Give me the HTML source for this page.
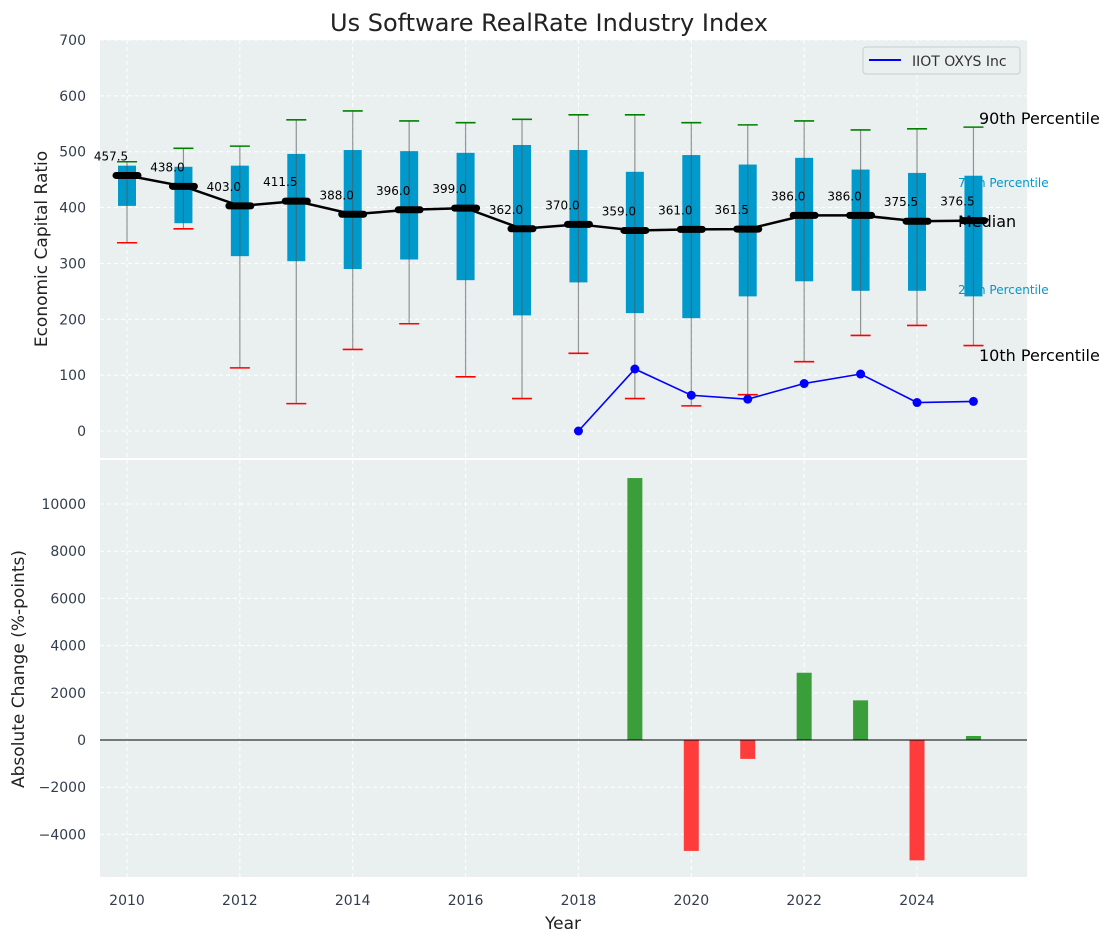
<!DOCTYPE html>
<html><head><meta charset="utf-8">
<style>
body{margin:0;background:#fff;font-family:"Liberation Sans","DejaVu Sans",sans-serif;}
svg text{font-family:"DejaVu Sans","Liberation Sans",sans-serif;}
</style></head>
<body>
<svg id="chart" width="1114" height="942" xmlns="http://www.w3.org/2000/svg"></svg>
<script>
const years=[2010,2011,2012,2013,2014,2015,2016,2017,2018,2019,2020,2021,2022,2023,2024,2025];
const p10=[337,362,113,49,146,192,97,58,139,58,45,65,124,171,189,153];
const p25=[403,372,313,304,290,307,270,207,266,211,202,241,268,251,251,241];
const medians=[457.5,438,403,411.5,388,396,399,362,370,359,361,361.5,386,386,375.5,376.5];
const p75=[475,473,475,496,503,501,498,512,503,464,494,477,489,468,462,457];
const p90=[482,506,510,557,573,555,552,558,566,566,552,548,555,539,541,544];
const companyYears=[2018,2019,2020,2021,2022,2023,2024,2025];
const companyValues=[0,111,64,57,85,102,51,53];
const changeYears=[2019,2020,2021,2022,2023,2024,2025];
const changeValues=[11100,-4700,-800,2850,1680,-5100,170];
const topTicks=[0,100,200,300,400,500,600,700];
const botTicks=[-4000,-2000,0,2000,4000,6000,8000,10000];
const xTicks=[2010,2012,2014,2016,2018,2020,2022,2024];

const svg=document.getElementById('chart');
const NS='http://www.w3.org/2000/svg';
function el(tag,attrs,parent){const e=document.createElementNS(NS,tag);for(const k in attrs)e.setAttribute(k,attrs[k]);(parent||svg).appendChild(e);return e;}
const L=100,R=1027,T1=40,B1=458,T2=460,B2=877;
const x=v=>127+(v-2010)*56.43;
const y1=v=>431-v*0.5586;
const y2=v=>740-v*0.0236;
const fmt=v=>v<0?'\u2212'+(-v):String(v);

let p=el('rect',{x:L,y:T1,width:R-L,height:B1-T1,fill:'#eaeff0'});

p=el('rect',{x:L,y:T2,width:R-L,height:B2-T2,fill:'#eaeff0'});


xTicks.forEach(t=>{
  [[T1,B1],[T2,B2]].forEach(([a,b])=>{let g=el('line',{x1:x(t),x2:x(t),y1:a,y2:b,stroke:'#fff','stroke-dasharray':'4,3','stroke-width':1});});
  let tx=el('text',{x:x(t),y:905,'text-anchor':'middle','font-size':14,fill:'#333d4d'});tx.textContent=t;
  
});
topTicks.forEach(t=>{
  let g=el('line',{x1:L,x2:R,y1:y1(t),y2:y1(t),stroke:'#fff','stroke-dasharray':'4,3'});
  
  let tx=el('text',{x:86,y:y1(t)+5,'text-anchor':'end','font-size':14,fill:'#333d4d'});tx.textContent=fmt(t);
  
});
botTicks.forEach(t=>{
  let g=el('line',{x1:L,x2:R,y1:y2(t),y2:y2(t),stroke:'#fff','stroke-dasharray':'4,3'});
  
  let tx=el('text',{x:86,y:y2(t)+5,'text-anchor':'end','font-size':14,fill:'#333d4d'});tx.textContent=fmt(t);
  
});

function lab(txt,xx,yy,size,color,name){let t=el('text',{x:xx,y:yy,'font-size':size,fill:color});t.textContent=txt;}
lab('75th Percentile',958,187,12,'#0099cc','p75-label');
lab('25th Percentile',958,294,12,'#0099cc','p25-label');

years.forEach((yr,i)=>{
  const cx=x(yr);
  let b=el('rect',{x:cx-9,y:y1(p75[i]),width:18,height:y1(p25[i])-y1(p75[i]),fill:'#0099cc'});
  
  let w=el('line',{x1:cx,x2:cx,y1:y1(p90[i]),y2:y1(p10[i]),stroke:'#555','stroke-opacity':0.6,'stroke-width':1.2});
  
  let c1=el('line',{x1:cx-10,x2:cx+10,y1:y1(p90[i]),y2:y1(p90[i]),stroke:'green','stroke-width':1.6});
  
  let c2=el('line',{x1:cx-10,x2:cx+10,y1:y1(p10[i]),y2:y1(p10[i]),stroke:'red','stroke-width':1.6});
  
});
let ml=el('polyline',{points:years.map((yr,i)=>x(yr)+','+y1(medians[i])).join(' '),fill:'none',stroke:'#000','stroke-width':2.5});

years.forEach((yr,i)=>{
  const cx=x(yr),cy=y1(medians[i]);
  let m=el('line',{x1:cx-11,x2:cx+11,y1:cy,y2:cy,stroke:'#000','stroke-width':7,'stroke-linecap':'round'});
  
  let t=el('text',{x:cx-16,y:cy-15,'text-anchor':'middle','font-size':12,fill:'#000'});t.textContent=medians[i].toFixed(1);
  
});
lab('90th Percentile',979,124,16,'#000','p90-label');
lab('Median',958,227,16,'#000','median-label');
lab('10th Percentile',979,361,16,'#000','p10-label');

let cl=el('polyline',{points:companyYears.map((yr,i)=>x(yr)+','+y1(companyValues[i])).join(' '),fill:'none',stroke:'#0000ff','stroke-width':1.6});

companyYears.forEach((yr,i)=>{let c=el('circle',{cx:x(yr),cy:y1(companyValues[i]),r:4.5,fill:'#0000ff'});});

let lg=el('g',{});
el('rect',{x:863,y:47,width:157,height:27,rx:3,fill:'#eaeff0',stroke:'#ccc'},lg);
el('line',{x1:869,x2:901,y1:60,y2:60,stroke:'#0000ff','stroke-width':2},lg);
let lt=el('text',{x:912,y:66,'font-size':14,fill:'#333'},lg);lt.textContent='IIOT OXYS Inc';

changeYears.forEach((yr,i)=>{
  const v=changeValues[i];const a=y2(Math.max(v,0)),b=y2(Math.min(v,0));
  let r=el('rect',{x:x(yr)-7.5,y:a,width:15,height:b-a,fill:v>=0?'#3a9e3a':'#ff3c3c'});
  
});
let zl=el('line',{x1:L,x2:R,y1:y2(0),y2:y2(0),stroke:'#000','stroke-width':1});


let tt=el('text',{x:549,y:31,'text-anchor':'middle','font-size':24,fill:'#222'});tt.textContent='Us Software RealRate Industry Index';

let yt=el('text',{x:0,y:0,'text-anchor':'middle','font-size':17,fill:'#222',transform:'translate(47,249) rotate(-90)'});yt.textContent='Economic Capital Ratio';

let yb=el('text',{x:0,y:0,'text-anchor':'middle','font-size':17,fill:'#222',transform:'translate(24,669) rotate(-90)'});yb.textContent='Absolute Change (%-points)';

let xt=el('text',{x:563,y:929,'text-anchor':'middle','font-size':17,fill:'#222'});xt.textContent='Year';

</script>
</body></html>
